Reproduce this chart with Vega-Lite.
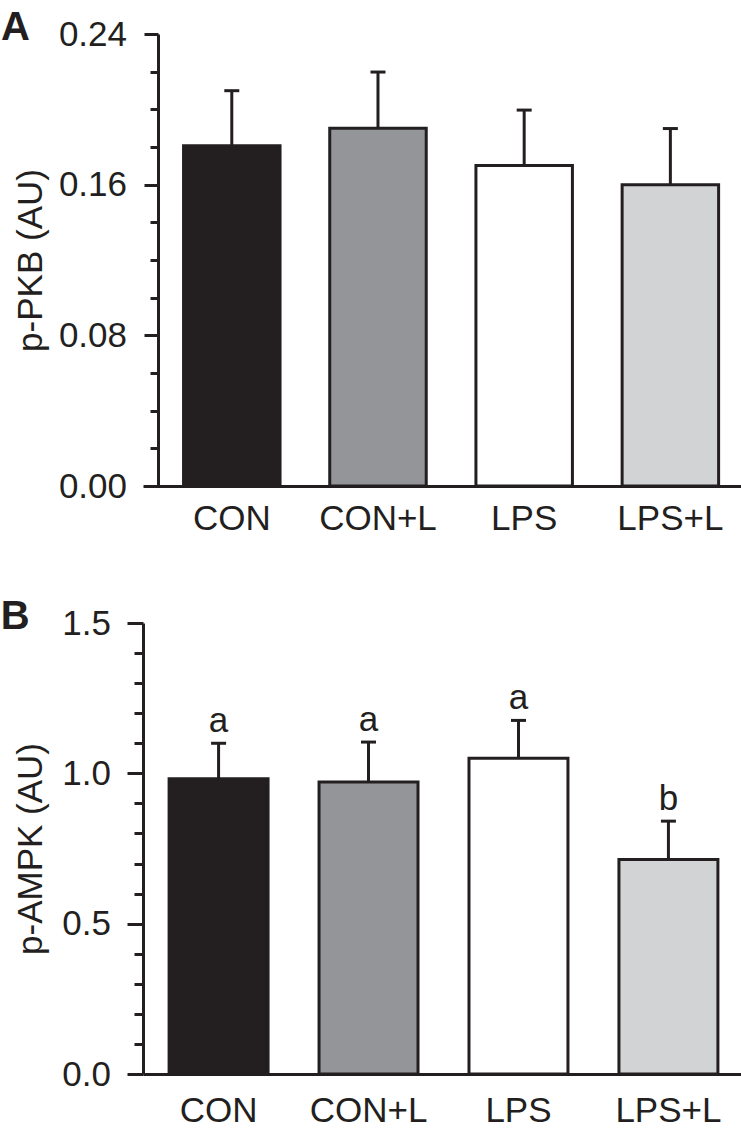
{
  "$schema": "https://vega.github.io/schema/vega-lite/v6.json",
  "background": "white",
  "padding": {"left": 0, "top": 8, "right": 0, "bottom": 0},
  "spacing": 61,
  "config": {
    "view": {"stroke": null},
    "font": "Liberation Sans",
    "axis": {
      "domainColor": "#231f20",
      "domainWidth": 3,
      "tickColor": "#231f20",
      "tickWidth": 3,
      "labelColor": "#231f20",
      "labelFont": "Liberation Sans",
      "labelFontSize": 35,
      "labelOverlap": false,
      "titleFont": "Liberation Sans",
      "titleFontSize": 35,
      "titleFontWeight": "normal",
      "titleColor": "#231f20",
      "grid": false
    },
    "title": {"font": "Liberation Sans", "fontSize": 40, "fontWeight": "bold", "color": "#231f20"}
  },
  "vconcat": [
    {
      "width": 601,
      "height": 452,
      "title": {"text": "A", "anchor": "start", "frame": "bounds", "dx": -13, "offset": -31},
      "data": {"values": [
        {"group": "CON", "mean": 0.1807, "upper": 0.2099},
        {"group": "CON+L", "mean": 0.1899, "upper": 0.2198},
        {"group": "LPS", "mean": 0.1702, "upper": 0.1996},
        {"group": "LPS+L", "mean": 0.1600, "upper": 0.1898}
      ]},
      "encoding": {
        "x": {
          "field": "group", "type": "nominal", "sort": null,
          "scale": {"paddingInner": 0.34, "paddingOuter": 0.2255, "align": 0.615},
          "axis": {"title": null, "ticks": false, "tickSize": 0, "labelAngle": 0, "labelPadding": 15}
        }
      },
      "layer": [
        {
          "mark": {"type": "rule", "color": "#231f20", "strokeWidth": 3},
          "encoding": {
            "y": {"field": "mean", "type": "quantitative",
              "scale": {"domain": [0, 0.24], "nice": false, "zero": true},
              "axis": {
                "title": "p-PKB (AU)",
                "titlePadding": 9.5,
                "offset": -15,
                "labelOverlap": false,
                "tickCount": 100,
                "values": [0, 0.02, 0.04, 0.06, 0.08, 0.1, 0.12, 0.14, 0.16, 0.18, 0.2, 0.22, 0.24],
                "labelExpr": "abs(datum.value/0.08 - round(datum.value/0.08)) < 0.001 ? format(datum.value, '.2f') : ''",
                "tickSize": {"condition": {"test": "abs(datum.value/0.08 - round(datum.value/0.08)) < 0.001", "value": 14}, "value": 8},
                "labelPadding": 17.5
              }
            },
            "y2": {"field": "upper"}
          }
        },
        {
          "mark": {"type": "tick", "color": "#231f20", "size": 15, "thickness": 3, "opacity": 1},
          "encoding": {"y": {"field": "upper", "type": "quantitative"}}
        },
        {
          "mark": {"type": "bar", "stroke": "#231f20", "strokeWidth": 3},
          "encoding": {
            "y": {"field": "mean", "type": "quantitative"},
            "fill": {"field": "group", "type": "nominal", "legend": null,
              "scale": {"domain": ["CON", "CON+L", "LPS", "LPS+L"], "range": ["#231f20", "#939598", "#ffffff", "#d1d3d4"]}}
          }
        }
      ]
    },
    {
      "width": 601,
      "height": 451,
      "title": {"text": "B", "anchor": "start", "frame": "bounds", "dx": -13, "offset": -31},
      "data": {"values": [
        {"group": "CON", "mean": 0.982, "upper": 1.100, "letter": "a"},
        {"group": "CON+L", "mean": 0.971, "upper": 1.104, "letter": "a"},
        {"group": "LPS", "mean": 1.050, "upper": 1.176, "letter": "a"},
        {"group": "LPS+L", "mean": 0.713, "upper": 0.841, "letter": "b"}
      ]},
      "encoding": {
        "x": {
          "field": "group", "type": "nominal", "sort": null,
          "scale": {"paddingInner": 0.34, "paddingOuter": 0.174},
          "axis": {"title": null, "ticks": false, "tickSize": 0, "labelAngle": 0, "labelPadding": 19}
        }
      },
      "layer": [
        {
          "mark": {"type": "rule", "color": "#231f20", "strokeWidth": 3},
          "encoding": {
            "y": {"field": "mean", "type": "quantitative",
              "scale": {"domain": [0, 1.5], "nice": false, "zero": true},
              "axis": {
                "title": "p-AMPK (AU)",
                "titlePadding": 13,
                "labelOverlap": false,
                "tickCount": 100,
                "values": [0, 0.1, 0.2, 0.3, 0.4, 0.5, 0.6, 0.7, 0.8, 0.9, 1.0, 1.1, 1.2, 1.3, 1.4, 1.5],
                "labelExpr": "abs(datum.value/0.5 - round(datum.value/0.5)) < 0.001 ? format(datum.value, '.1f') : ''",
                "tickSize": {"condition": {"test": "abs(datum.value/0.5 - round(datum.value/0.5)) < 0.001", "value": 16}, "value": 9},
                "labelPadding": 16.5
              }
            },
            "y2": {"field": "upper"}
          }
        },
        {
          "mark": {"type": "tick", "color": "#231f20", "size": 15, "thickness": 3, "opacity": 1},
          "encoding": {"y": {"field": "upper", "type": "quantitative"}}
        },
        {
          "mark": {"type": "bar", "stroke": "#231f20", "strokeWidth": 3},
          "encoding": {
            "y": {"field": "mean", "type": "quantitative"},
            "fill": {"field": "group", "type": "nominal", "legend": null,
              "scale": {"domain": ["CON", "CON+L", "LPS", "LPS+L"], "range": ["#231f20", "#939598", "#ffffff", "#d1d3d4"]}}
          }
        },
        {
          "mark": {"type": "text", "fontSize": 35, "color": "#231f20", "baseline": "alphabetic", "dy": -11},
          "encoding": {
            "y": {"field": "upper", "type": "quantitative"},
            "text": {"field": "letter"}
          }
        }
      ]
    }
  ]
}
